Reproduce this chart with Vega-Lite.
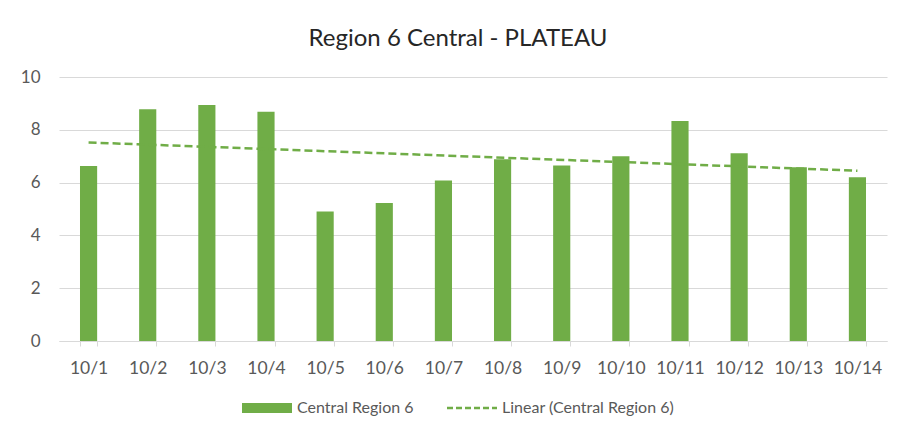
{
  "$schema": "https://vega.github.io/schema/vega-lite/v6.json",
  "width": 828,
  "height": 264,
  "autosize": {"type": "none"},
  "padding": {"left": 59, "top": 77, "right": 11, "bottom": 96},
  "background": "white",
  "title": {
    "text": "Region 6 Central - PLATEAU",
    "font": "Lato",
    "fontSize": 24,
    "fontWeight": "normal",
    "color": "#262626",
    "anchor": "middle",
    "offset": 17,
    "dx": -15
  },
  "config": {
    "view": {"stroke": null},
    "font": "Lato"
  },
  "data": {
    "values": [
      {"date": "10/1", "value": 6.63, "trend": 7.52},
      {"date": "10/2", "value": 8.78},
      {"date": "10/3", "value": 8.94},
      {"date": "10/4", "value": 8.68},
      {"date": "10/5", "value": 4.91},
      {"date": "10/6", "value": 5.23},
      {"date": "10/7", "value": 6.08},
      {"date": "10/8", "value": 6.88},
      {"date": "10/9", "value": 6.65},
      {"date": "10/10", "value": 7.0},
      {"date": "10/11", "value": 8.33},
      {"date": "10/12", "value": 7.11},
      {"date": "10/13", "value": 6.58},
      {"date": "10/14", "value": 6.2, "trend": 6.45}
    ]
  },
  "encoding": {
    "x": {
      "field": "date",
      "type": "ordinal",
      "sort": null,
      "scale": {"paddingInner": 0.71, "paddingOuter": 0.355},
      "axis": {
        "title": null,
        "labelAngle": 0,
        "labelFont": "Lato",
        "labelFontSize": 17.5,
        "labelColor": "#595959",
        "labelPadding": 13,
        "domainColor": "#d9d9d9",
        "domainWidth": 1,
        "tickColor": "#d9d9d9",
        "tickSize": 5,
        "tickBand": "extent",
        "grid": false
      }
    }
  },
  "layer": [
    {
      "mark": {"type": "bar", "color": "#70AD47"},
      "encoding": {
        "y": {
          "field": "value",
          "type": "quantitative",
          "scale": {"domain": [0, 10]},
          "axis": {
            "title": null,
            "values": [0, 2, 4, 6, 8, 10],
            "labelFont": "Lato",
            "labelFontSize": 17,
            "labelColor": "#595959",
            "labelPadding": 19,
            "domain": false,
            "ticks": false,
            "gridColor": "#d9d9d9",
            "gridWidth": 1
          }
        },
        "color": {
          "datum": "Central Region 6",
          "type": "nominal",
          "scale": {
            "domain": ["Central Region 6", "Linear (Central Region 6)"],
            "range": ["#70AD47", "#70AD47"]
          },
          "legend": {
            "orient": "none",
            "legendX": 200,
            "legendY": 323,
            "direction": "horizontal",
            "title": null,
            "labelFont": "Lato",
            "labelFontSize": 16,
            "labelColor": "#595959",
            "labelOffset": 22,
            "labelLimit": 0,
            "columnPadding": 28,
            "symbolSize": 2500,
            "encoding": {
              "symbols": {
                "shape": {"value": {"expr": "datum.value === 'Central Region 6' ? 'M-1,-0.2L1,-0.2L1,0.2L-1,0.2Z' : 'stroke'"}},
                "fill": {"value": {"expr": "datum.value === 'Central Region 6' ? '#70AD47' : 'transparent'"}},
                "stroke": {"value": "#70AD47"},
                "strokeWidth": {"value": {"expr": "datum.value === 'Central Region 6' ? 0 : 2.5"}},
                "strokeDash": {"value": {"expr": "datum.value === 'Central Region 6' ? [1, 0] : [6, 3]"}}
              }
            }
          }
        }
      }
    },
    {
      "transform": [{"filter": "isValid(datum.trend)"}],
      "mark": {"type": "line", "color": "#70AD47", "strokeWidth": 2.5, "strokeDash": [8, 4]},
      "encoding": {
        "y": {"field": "trend", "type": "quantitative"},
        "color": {"datum": "Linear (Central Region 6)", "type": "nominal"}
      }
    }
  ]
}
